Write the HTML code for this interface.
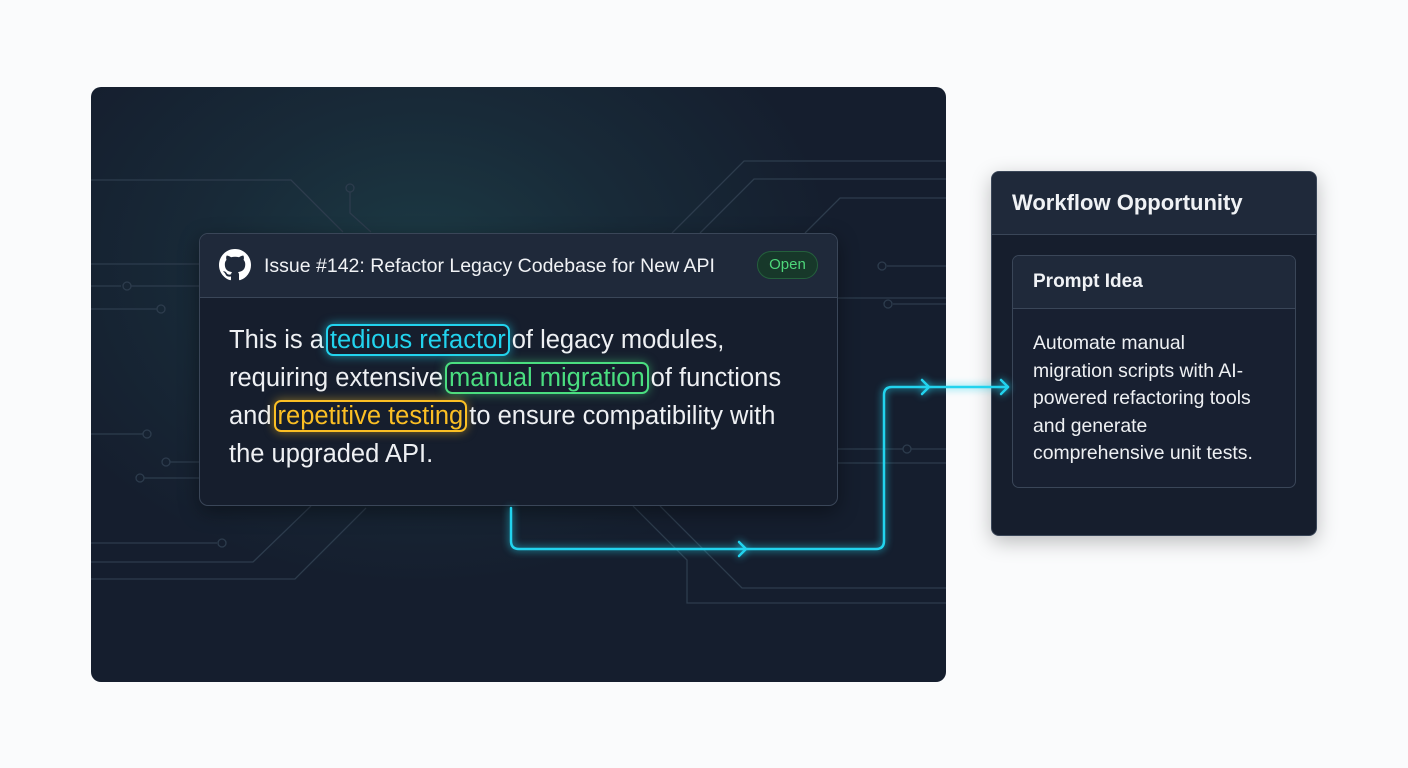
<!DOCTYPE html>
<html><head><meta charset="utf-8"><style>
*{margin:0;padding:0;box-sizing:border-box}
body{width:1408px;height:768px;background:#fafbfc;position:relative;overflow:hidden;font-family:"Liberation Sans",sans-serif}
.panel{position:absolute;left:91px;top:87px;width:855px;height:595px;border-radius:10px;overflow:hidden;
background:radial-gradient(ellipse 420px 320px at 330px 180px,#1c3a44 0%,#182a38 50%,#151e2e 100%)}
.t{position:absolute;white-space:nowrap}
.card{position:absolute;left:199px;top:233px;width:639px;height:273px;border:1.5px solid #3a4658;border-radius:9px;background:#161e2d;overflow:hidden;box-shadow:0 6px 20px rgba(0,0,0,.4)}
.card .hd{height:64px;background:#1f293a;border-bottom:1.5px solid #3a4658}
.body{position:absolute;left:229px;top:321px;width:600px;font-size:25.5px;line-height:38px;color:#eef0f3;white-space:nowrap}
.h{border:2px solid;border-radius:7px;padding:0 2px;margin:0 2px}
.c{color:#22d3ee;border-color:#22d3ee;box-shadow:0 0 10px rgba(34,211,238,.6)}
.g{color:#4ade80;border-color:#4ade80;box-shadow:0 0 10px rgba(74,222,128,.5)}
.y{color:#fbbf24;border-color:#fbbf24;box-shadow:0 0 10px rgba(251,191,36,.5)}
</style></head><body>
<div class="panel">
<svg width="855" height="595" style="position:absolute;left:0;top:0" fill="none" stroke="#2d3c4d" stroke-width="1.3">
<path d="M0 93 H200 L252 145"/><circle cx="259" cy="101" r="4"/><path d="M259 105 V126 L280 145"/>
<path d="M0 177 H110"/><path d="M0 199 H30"/><circle cx="36" cy="199" r="4"/><path d="M40 199 H110"/>
<path d="M0 222 H66"/><circle cx="70" cy="222" r="4"/>
<path d="M0 347 H52"/><circle cx="56" cy="347" r="4"/><path d="M79 375 H110"/><circle cx="75" cy="375" r="4"/><path d="M53 391 H110"/><circle cx="49" cy="391" r="4"/>
<path d="M0 456 H126"/><circle cx="131" cy="456" r="4"/>
<path d="M0 475 H162 L220 419"/><path d="M0 492 H204 L275 421"/>
<path d="M581 146 L653 74 H855"/><path d="M609 146 L663 92 H855"/><path d="M714 146 L749 111 H855"/>
<path d="M855 179 H796"/><circle cx="791" cy="179" r="4"/><path d="M855 217 H802"/><circle cx="797" cy="217" r="4"/>
<path d="M747 211 H855"/><path d="M747 362 H812"/><circle cx="816" cy="362" r="4"/><path d="M820 362 H855"/><path d="M747 376 H855"/>
<path d="M542 419 L596 473 V516 H855"/><path d="M569 419 L651 501 H855"/>
</svg>
</div>
<div class="card"><div class="hd"></div></div>
<svg style="position:absolute;left:219px;top:249px" width="32" height="32" viewBox="0 0 16 16"><path fill="#fff" d="M8 0C3.58 0 0 3.58 0 8c0 3.540 2.290 6.530 5.470 7.590.4.07.55-.17.55-.38 0-.19-.01-.82-.01-1.49-2.01.37-2.53-.49-2.690-.94-.09-.23-.48-.94-.82-1.130-.28-.15-.68-.52-.01-.53.63-.01 1.080.58 1.230.82.72 1.210 1.870.87 2.330.66.07-.52.28-.87.51-1.07-1.78-.2-3.64-.89-3.64-3.95 0-.87.31-1.59.82-2.15-.08-.2-.36-1.02.08-2.12 0 0 .67-.21 2.2.82.64-.18 1.32-.27 2-.27.68 0 1.36.09 2 .27 1.53-1.04 2.2-.82 2.2-.82.44 1.1.16 1.92.08 2.12.51.56.82 1.27.82 2.15 0 3.07-1.87 3.75-3.65 3.95.29.25.54.73.54 1.48 0 1.07-.01 1.93-.01 2.2 0 .21.15.46.55.38A8.013 8.013 0 0016 8c0-4.42-3.58-8-8-8z"/></svg>
<div class="t" style="left:264px;top:255px;font-size:19.5px;color:#f0f2f5">Issue #142: Refactor Legacy Codebase for New API</div>
<div class="t" style="left:757px;top:251px;width:61px;height:28px;border-radius:14px;background:#17382a;border:1.5px solid #24603c;color:#4ed67a;font-size:15px;text-align:center;line-height:25px">Open</div>
<div class="body">This is a<span class="h c">tedious refactor</span>of legacy modules,<br>requiring extensive<span class="h g">manual migration</span>of functions<br>and<span class="h y">repetitive testing</span>to ensure compatibility with<br>the upgraded API.</div>
<div style="position:absolute;left:991px;top:171px;width:326px;height:365px;border-radius:8px;background:#161e2d;border:1.5px solid #3a4658;overflow:hidden;box-shadow:0 6px 20px rgba(0,0,0,.25)">
<div style="height:63px;background:#1f293a;border-bottom:1.5px solid #3a4658"></div>
</div>
<div class="t" style="left:1012px;top:190px;font-size:22px;font-weight:bold;color:#f0f2f5">Workflow Opportunity</div>
<div style="position:absolute;left:1012px;top:255px;width:284px;height:233px;border-radius:7px;border:1.5px solid #3a4658;background:#182031;overflow:hidden">
<div style="height:53px;background:#1f293a;border-bottom:1.5px solid #3a4658"></div></div>
<div class="t" style="left:1033px;top:271px;font-size:19px;font-weight:bold;color:#f0f2f5">Prompt Idea</div>
<div class="t" style="left:1033px;top:330px;font-size:19.4px;line-height:27.5px;color:#eef0f3">Automate manual<br>migration scripts with AI-<br>powered refactoring tools<br>and generate<br>comprehensive unit tests.</div>
<svg width="1408" height="768" style="position:absolute;left:0;top:0" fill="none" stroke="#22d3ee" stroke-width="2.5" stroke-linecap="round" stroke-linejoin="round">
<g style="filter:drop-shadow(0 0 4px #22d3ee)">
<path d="M511 508 V541 Q511 549 519 549 H876 Q884 549 884 541 V395 Q884 387 892 387 H1008"/>
<path d="M739 542 L746 549 L739 556"/><path d="M922 380 L929 387 L922 394"/><path d="M1001 380 L1008 387 L1001 394"/>
</g></svg>
</body></html>
